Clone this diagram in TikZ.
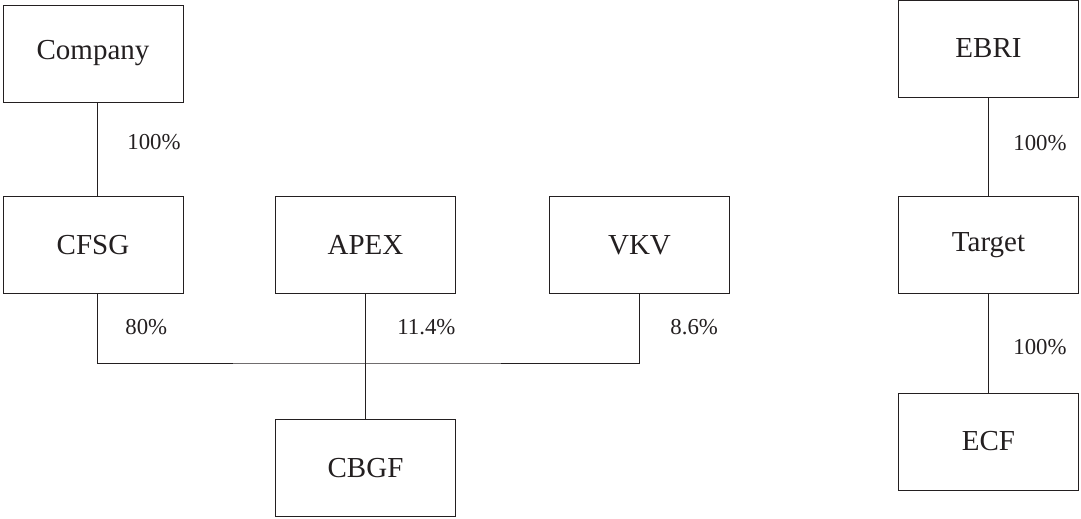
\documentclass[tikz,border=0pt]{standalone}
\usepackage{fontspec}
\setmainfont{Liberation Serif}
\usepackage{tikz}
\usetikzlibrary{calc,positioning}
\definecolor{myink}{RGB}{35,31,32}

\begin{document}
\begin{tikzpicture}[x=0.5pt, y=-0.5pt,
  entity/.style={draw=myink, rectangle, minimum width=90pt, minimum height=48.5pt, inner sep=0pt, text=myink, font=\fontsize{14.5}{17}\selectfont},
  pct/.style={anchor=west, inner sep=0pt, text=myink, font=\fontsize{11.4}{13}\selectfont},
  link/.style={draw=myink, line width=0.5pt}]
  \useasboundingbox (0,0) rectangle (1081,519);

  % Left group
  \node[entity] (company) at (93,53.5) {Company};
  \node[entity] (cfsg) at (93,245) {CFSG};
  \node[entity] (apex) at (365.5,245) {APEX};
  \node[entity] (vkv) at (639.5,245) {VKV};
  \node[entity] (cbgf) at (365.5,468) {CBGF};

  % Right group
  \node[entity] (ebri) at (988.5,48.5) {EBRI};
  \node[entity] (target) at (988.5,245) {Target};
  \node[entity] (ecf) at (988.5,441.5) {ECF};

  % Joint holding line
  \coordinate (join) at (365.5,363);

  % Connectors
  \draw[link] ([xshift=2pt]company.south) -- ([xshift=2pt]cfsg.north);
  \draw[link] ([xshift=2pt]cfsg.south) |- (join) -| (vkv.south);
  \draw[link] (apex) -- (cbgf);
  \draw[link] (ebri) -- (target);
  \draw[link] (target) -- (ecf);

  % Shares
  \node[pct] (p1) at (127,142) {100\%};
  \node[pct] (p2) at (125,327) {80\%};
  \node[pct] (p3) at (397,327) {11.4\%};
  \node[pct] (p4) at (670,327) {8.6\%};
  \node[pct] (p5) at (1013,143) {100\%};
  \node[pct] (p6) at (1013,347) {100\%};
\end{tikzpicture}
\end{document}
